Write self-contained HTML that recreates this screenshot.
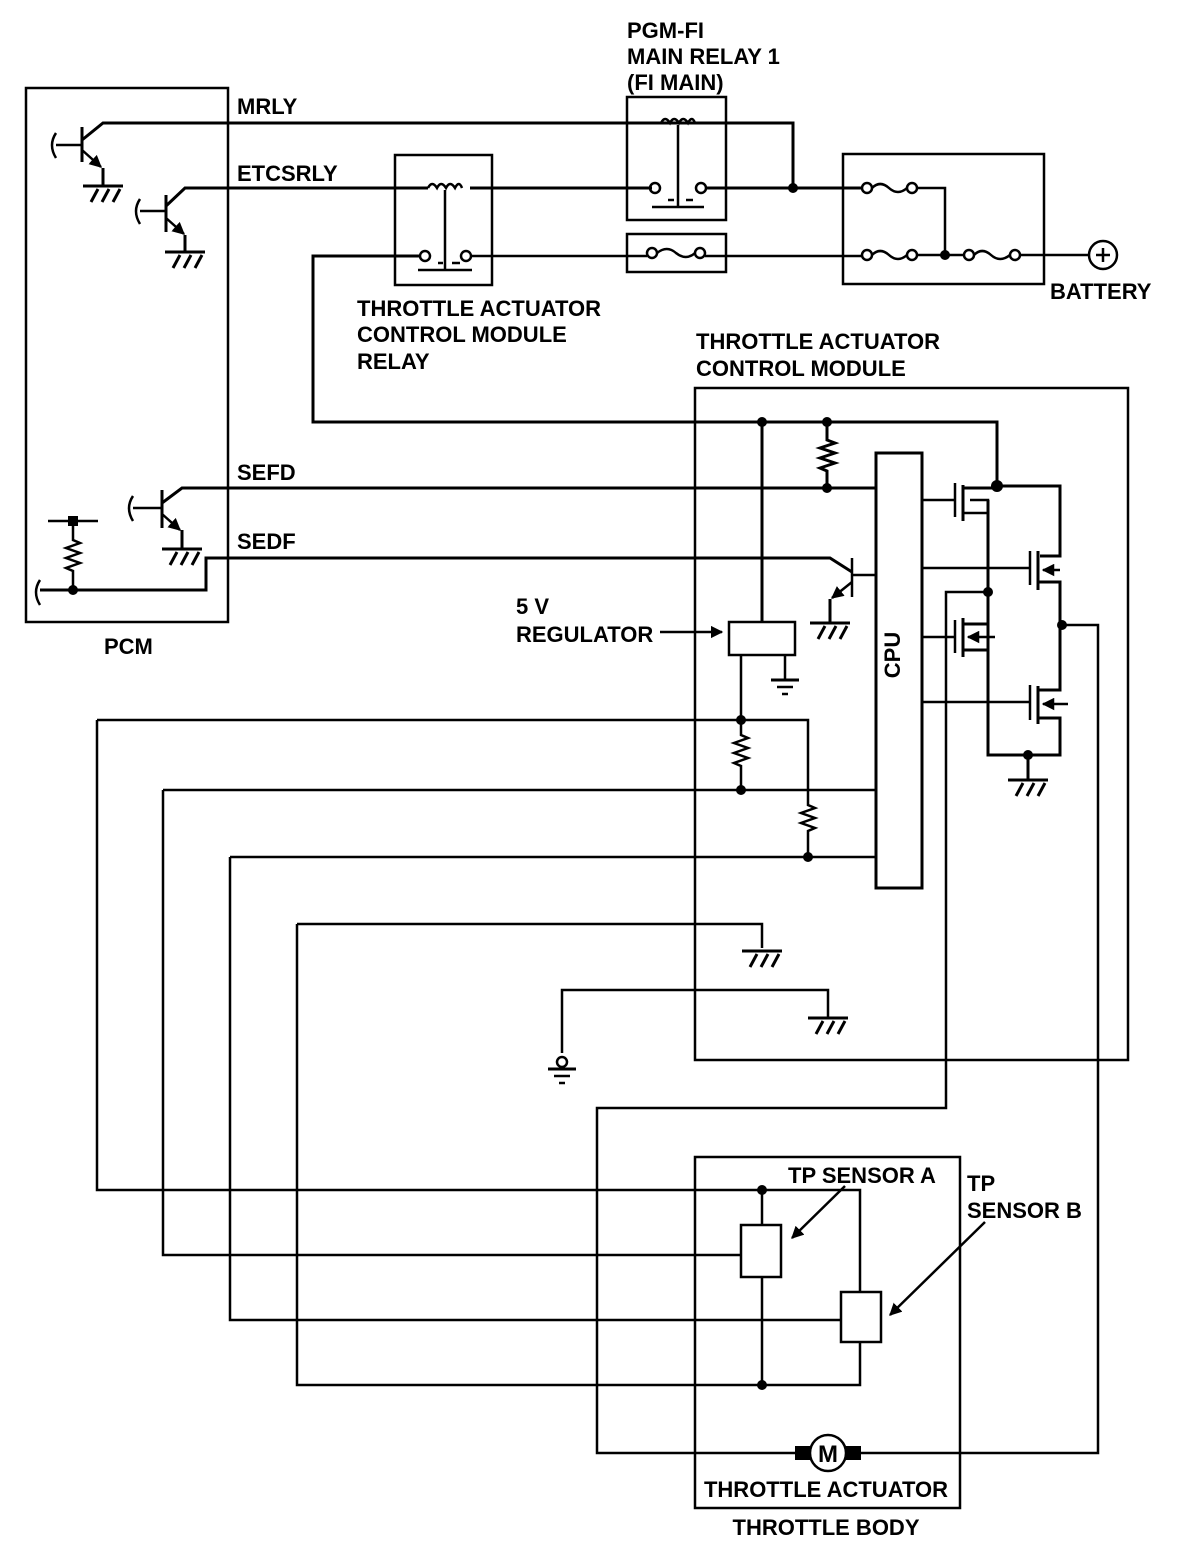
<!DOCTYPE html>
<html><head><meta charset="utf-8"><style>
html,body{margin:0;padding:0;background:#fff}
svg text{font-family:"Liberation Sans",Arial,sans-serif;font-weight:bold;font-size:22px;fill:#000}
</style></head><body>
<svg width="1184" height="1550" viewBox="0 0 1184 1550" xmlns="http://www.w3.org/2000/svg">
<defs>
<g id="gnd"><line x1="-20" y1="0" x2="20" y2="0" stroke="#000" stroke-width="3"/><path d="M-12 16 L-5 3 M-1 16 L6 3 M10 16 L17 3" stroke="#000" stroke-width="3" fill="none"/></g>
<g id="sgnd"><line x1="-14" y1="0" x2="14" y2="0" stroke="#000" stroke-width="3"/><line x1="-8" y1="7" x2="8" y2="7" stroke="#000" stroke-width="2.5"/><line x1="-3" y1="14" x2="3" y2="14" stroke="#000" stroke-width="2.5"/></g>
<marker id="ar" viewBox="0 0 10 10" refX="9" refY="5" markerWidth="5" markerHeight="5" orient="auto"><path d="M0 0 L10 5 L0 10 z" fill="#000"/></marker>
</defs>
<g fill="none" stroke="#000" stroke-width="3">
<rect x="26" y="88" width="202" height="534" stroke-width="2.5"/>
<line x1="82" y1="127" x2="82" y2="162"/><line x1="56" y1="145" x2="82" y2="145" stroke-width="2.5"/>
<path d="M56 133 Q48 145 56 158" stroke-width="2.5"/>
<path d="M82 140 L103 123 L793 123 L793 188"/>
<line x1="82" y1="150" x2="101" y2="167" marker-end="url(#ar)" stroke-width="2.5"/><line x1="103" y1="168" x2="103" y2="186"/>
<line x1="166" y1="195" x2="166" y2="232"/><line x1="140" y1="211" x2="166" y2="211" stroke-width="2.5"/>
<path d="M140 199 Q132 211 140 224" stroke-width="2.5"/>
<path d="M166 206 L185 188 L428 188"/>
<line x1="166" y1="218" x2="184" y2="234" marker-end="url(#ar)" stroke-width="2.5"/><line x1="185" y1="235" x2="185" y2="252"/>
<line x1="162" y1="490" x2="162" y2="528"/><line x1="133" y1="508" x2="162" y2="508" stroke-width="2.5"/>
<path d="M133 496 Q125 508 133 521" stroke-width="2.5"/>
<path d="M162 503 L182 488 L876 488"/>
<line x1="162" y1="514" x2="180" y2="530" marker-end="url(#ar)" stroke-width="2.5"/><line x1="182" y1="530" x2="182" y2="549"/>
<line x1="48" y1="521" x2="98" y2="521" stroke-width="2.5"/>
<path d="M73 521 L73 540 L80 543 L66 548 L80 553 L66 558 L80 563 L66 568 L73 571 L73 590" stroke-width="2.5"/>
<path d="M40 580 Q32 592 40 605" stroke-width="2.5"/>
<path d="M40 590 L206 590 L206 558 L830 558 L852 572"/>
<rect x="395" y="155" width="97" height="130" stroke-width="2.5"/>
<path d="M428 188 Q432 180 437 188 Q441 180 446 188 Q450 180 455 188 Q459 180 462 188" stroke-width="2.5"/>
<line x1="470" y1="188" x2="652" y2="188"/>
<line x1="445" y1="190" x2="445" y2="270" stroke-width="2.5"/>
<line x1="418" y1="270" x2="472" y2="270" stroke-width="2.5"/>
<line x1="438" y1="263" x2="443" y2="263" stroke-width="2.5"/><line x1="452" y1="263" x2="460" y2="263" stroke-width="2.5"/>
<circle cx="425" cy="256" r="5" stroke-width="2.5"/><circle cx="466" cy="256" r="5" stroke-width="2.5"/>
<path d="M420 256 L313 256 L313 422 L997 422 L997 486" stroke-width="3"/>
<line x1="471" y1="256" x2="647" y2="256" stroke-width="2.5"/>
<rect x="627" y="97" width="99" height="123" stroke-width="2.5"/>
<path d="M661 123 Q665 115 670 123 Q674 115 679 123 Q683 115 688 123 Q692 115 695 123" stroke-width="2.5"/>
<line x1="678" y1="125" x2="678" y2="207" stroke-width="2.5"/>
<line x1="652" y1="207" x2="704" y2="207" stroke-width="2.5"/>
<line x1="668" y1="200" x2="674" y2="200" stroke-width="2.5"/><line x1="686" y1="200" x2="693" y2="200" stroke-width="2.5"/>
<circle cx="655" cy="188" r="5" stroke-width="2.5"/><circle cx="701" cy="188" r="5" stroke-width="2.5"/>
<line x1="706" y1="188" x2="862" y2="188"/>
<rect x="627" y="234" width="99" height="38" stroke-width="2.5"/>
<circle cx="652" cy="253" r="5" stroke-width="2.5"/><circle cx="700" cy="253" r="5" stroke-width="2.5"/>
<path d="M657 253 Q667 245 676 253 Q686 261 695 253" stroke-width="2.5"/>
<line x1="705" y1="256" x2="862" y2="256" stroke-width="2.5"/>
<rect x="843" y="154" width="201" height="130" stroke-width="2.5"/>
<circle cx="867" cy="188" r="5" stroke-width="2.5"/><circle cx="912" cy="188" r="5" stroke-width="2.5"/>
<path d="M872 188 Q880 180 889 188 Q898 196 907 188" stroke-width="2.5"/>
<path d="M917 188 L945 188 L945 254" stroke-width="2.5"/>
<circle cx="867" cy="255" r="5" stroke-width="2.5"/><circle cx="912" cy="255" r="5" stroke-width="2.5"/>
<path d="M872 255 Q880 247 889 255 Q898 263 907 255" stroke-width="2.5"/>
<line x1="917" y1="255" x2="964" y2="255" stroke-width="2.5"/>
<circle cx="969" cy="255" r="5" stroke-width="2.5"/><circle cx="1015" cy="255" r="5" stroke-width="2.5"/>
<path d="M974 255 Q982 247 991 255 Q1000 263 1010 255" stroke-width="2.5"/>
<line x1="1020" y1="255" x2="1089" y2="255" stroke-width="2.5"/>
<circle cx="1103" cy="255" r="14" stroke-width="2.5"/>
<line x1="1096" y1="255" x2="1110" y2="255" stroke-width="2.5"/><line x1="1103" y1="248" x2="1103" y2="262" stroke-width="2.5"/>
<rect x="695" y="388" width="433" height="672" stroke-width="2.5"/>
<line x1="762" y1="422" x2="762" y2="622"/>
<path d="M827 422 L827 440 L835 443 L820 448 L835 453 L820 458 L835 463 L820 468 L827 471 L827 488"/>
<rect x="729" y="622" width="66" height="33" stroke-width="2.5"/>
<line x1="785" y1="655" x2="785" y2="680" stroke-width="2.5"/>
<line x1="660" y1="632" x2="722" y2="632" marker-end="url(#ar)" stroke-width="2.5"/>
<line x1="852" y1="558" x2="852" y2="597" stroke-width="2.5"/><line x1="852" y1="575" x2="876" y2="575" stroke-width="2.5"/>
<line x1="852" y1="582" x2="832" y2="598" marker-end="url(#ar)" stroke-width="2.5"/>
<line x1="830" y1="599" x2="830" y2="623"/>
<rect x="876" y="453" width="46" height="435"/>
<path d="M997 486 L1060 486 L1060 556 L1040 556" />
<line x1="922" y1="500" x2="955" y2="500" stroke-width="2.5"/><line x1="955" y1="483" x2="955" y2="517" stroke-width="2.5"/><line x1="963" y1="485" x2="963" y2="521"/>
<line x1="963" y1="488" x2="997" y2="488"/>
<path d="M963 513 L988 513 L988 500 L970 500" stroke-width="2.5"/>
<path d="M988 500 L988 755 L1060 755 L1060 718 L1038 718"/>
<line x1="922" y1="568" x2="1030" y2="568" stroke-width="2.5"/><line x1="1030" y1="551" x2="1030" y2="585" stroke-width="2.5"/><line x1="1038" y1="551" x2="1038" y2="590"/>
<path d="M1038 582 L1060 582 L1060 690 L1038 690"/>
<line x1="1060" y1="570" x2="1043" y2="570" stroke-width="2.5" marker-end="url(#ar)"/>
<line x1="922" y1="637" x2="955" y2="637" stroke-width="2.5"/><line x1="955" y1="620" x2="955" y2="653" stroke-width="2.5"/><line x1="963" y1="618" x2="963" y2="657"/>
<path d="M963 624 L988 624"/><path d="M963 650 L988 650"/>
<line x1="995" y1="637" x2="968" y2="637" stroke-width="2.5" marker-end="url(#ar)"/>
<line x1="922" y1="702" x2="1030" y2="702" stroke-width="2.5"/><line x1="1030" y1="685" x2="1030" y2="720" stroke-width="2.5"/><line x1="1038" y1="686" x2="1038" y2="724"/>
<line x1="1068" y1="704" x2="1043" y2="704" stroke-width="2.5" marker-end="url(#ar)"/>
<line x1="1028" y1="755" x2="1028" y2="780"/>
<path d="M988 592 L946 592 L946 1108 L597 1108 L597 1453 L796 1453" stroke-width="2.5"/>
<path d="M1062 625 L1098 625 L1098 1453 L860 1453" stroke-width="2.5"/>
<path d="M741 655 L741 720 L741 735 L748 738 L734 743 L748 748 L734 753 L748 758 L734 763 L741 766 L741 790" stroke-width="2.5"/>
<path d="M97 720 L808 720 L808 805 L815 808 L801 813 L815 818 L801 823 L815 828 L808 831 L808 857" stroke-width="2.5"/>
<path d="M97 720 L97 1190 L860 1190 L860 1292" stroke-width="2.5"/>
<path d="M163 790 L876 790 M163 790 L163 1255 L741 1255" stroke-width="2.5"/>
<path d="M230 857 L876 857 M230 857 L230 1320 L841 1320" stroke-width="2.5"/>
<path d="M297 924 L762 924 L762 948 M297 924 L297 1385 L860 1385 L860 1342" stroke-width="2.5"/>
<path d="M562 1053 L562 990 L828 990 L828 1018" stroke-width="2.5"/>
<circle cx="562" cy="1062" r="5" stroke-width="2.5"/>
<rect x="695" y="1157" width="265" height="351" stroke-width="2.5"/>
<rect x="741" y="1225" width="40" height="52" stroke-width="2.5"/>
<rect x="841" y="1292" width="40" height="50" stroke-width="2.5"/>
<line x1="762" y1="1190" x2="762" y2="1225" stroke-width="2.5"/><line x1="762" y1="1277" x2="762" y2="1385" stroke-width="2.5"/>
<line x1="845" y1="1186" x2="792" y2="1238" stroke-width="2.5" marker-end="url(#ar)"/>
<line x1="985" y1="1222" x2="890" y2="1315" stroke-width="2.5" marker-end="url(#ar)"/>
<circle cx="828" cy="1453" r="18" stroke-width="2.5"/>
</g>
<g fill="#000">
<rect x="795" y="1446" width="15" height="14"/><rect x="846" y="1446" width="15" height="14"/>
<rect x="68" y="516" width="10" height="10"/>
<circle cx="73" cy="590" r="5"/><circle cx="793" cy="188" r="5"/><circle cx="945" cy="255" r="5"/>
<circle cx="762" cy="422" r="5"/><circle cx="827" cy="422" r="5"/><circle cx="827" cy="488" r="5"/>
<circle cx="997" cy="486" r="6"/><circle cx="988" cy="592" r="5"/><circle cx="1062" cy="625" r="5"/>
<circle cx="1028" cy="755" r="5"/><circle cx="741" cy="720" r="5"/><circle cx="741" cy="790" r="5"/>
<circle cx="808" cy="857" r="5"/><circle cx="762" cy="1190" r="5"/><circle cx="762" cy="1385" r="5"/>
</g>
<use href="#gnd" x="103" y="186"/><use href="#gnd" x="185" y="252"/><use href="#gnd" x="182" y="549"/>
<use href="#gnd" x="830" y="623"/><use href="#gnd" x="1028" y="780"/><use href="#gnd" x="762" y="951"/><use href="#gnd" x="828" y="1018"/>
<use href="#sgnd" x="785" y="680"/><use href="#sgnd" x="562" y="1069"/>
<text x="627" y="38">PGM-FI</text>
<text x="627" y="64">MAIN RELAY 1</text>
<text x="627" y="90">(FI MAIN)</text>
<text x="237" y="114">MRLY</text>
<text x="237" y="181">ETCSRLY</text>
<text x="357" y="316">THROTTLE ACTUATOR</text>
<text x="357" y="342">CONTROL MODULE</text>
<text x="357" y="369">RELAY</text>
<text x="696" y="349">THROTTLE ACTUATOR</text>
<text x="696" y="376">CONTROL MODULE</text>
<text x="1050" y="299">BATTERY</text>
<text x="237" y="480">SEFD</text>
<text x="237" y="549">SEDF</text>
<text x="104" y="654">PCM</text>
<text x="516" y="614">5 V</text>
<text x="516" y="642">REGULATOR</text>
<text x="907" y="662" text-anchor="middle" transform="rotate(-90 900 662)">CPU</text>
<text x="788" y="1183">TP SENSOR A</text>
<text x="967" y="1191">TP</text>
<text x="967" y="1218">SENSOR B</text>
<text x="828" y="1462" text-anchor="middle" style="font-size:24px">M</text>
<text x="826" y="1497" text-anchor="middle">THROTTLE ACTUATOR</text>
<text x="826" y="1535" text-anchor="middle">THROTTLE BODY</text>
</svg>
</body></html>
